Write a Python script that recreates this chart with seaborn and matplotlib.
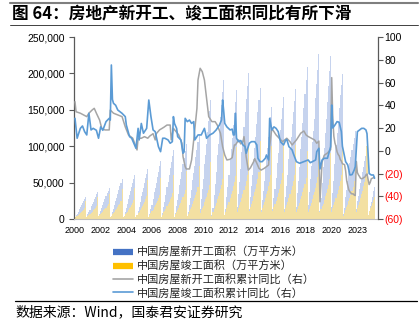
import matplotlib
matplotlib.use("Agg")
import matplotlib.pyplot as plt
import seaborn as sns
import pandas as pd
from matplotlib.lines import Line2D
from matplotlib.ticker import FuncFormatter

# ---------------- data ----------------
# category axis as in the source: each year from its first to its last reported month
cat_years = list(range(2000, 2025))
cat_first_month = [2, 2, 2, 1, 1, 1, 1, 1, 1, 1, 2, 1, 1, 2, 2, 2, 2, 2, 2, 2, 2, 2, 1, 2, 1]
cat_last_month = [12] * 24 + [7]

# 中国房屋新开工面积 累计值 (万平方米)
new_start_cum = [
    2400, 5000, 7400, 10100, 13600, 16000, 18600, 21600, 24300, 26900, 29600,                 # 2000
    3000, 6400, 9400, 12700, 17200, 20200, 23600, 27300, 30700, 34000, 37400,                 # 2001
    3400, 7300, 10700, 14600, 19700, 23100, 27000, 31200, 35100, 38900, 42800,                # 2002
    1600, 4400, 9300, 13700, 18600, 25200, 29500, 34500, 39900, 44900, 49800, 54700,          # 2003
    1800, 4800, 10300, 15100, 20500, 27800, 32600, 38100, 44100, 49500, 55000, 60400,         # 2004
    2000, 5400, 11600, 17000, 23200, 31300, 36800, 42900, 49700, 55800, 62000, 68100,         # 2005
    2400, 6300, 13500, 19800, 27000, 36500, 42800, 50000, 57900, 65000, 72200, 79300,         # 2006
    2900, 7600, 16200, 23900, 32400, 43900, 51500, 60100, 69600, 78200, 86800, 95400,         # 2007
    3100, 8200, 17400, 25700, 34900, 47200, 55400, 64600, 74900, 84100, 93400, 102600,        # 2008
    3500, 9300, 19800, 29100, 39600, 53500, 62900, 73300, 85000, 95400, 105900, 116400,       # 2009
    13100, 27800, 40900, 55600, 75300, 88300, 103100, 119400, 134200, 148900, 163600,         # 2010
    5700, 15300, 32500, 47800, 65000, 88000, 103200, 120500, 139600, 156800, 174000, 191200,  # 2011
    5300, 14200, 30100, 44300, 60300, 81600, 95700, 111700, 129400, 145400, 161300, 177300,   # 2012
    16100, 34200, 50300, 68400, 92600, 108600, 126800, 146900, 165000, 183100, 201200,        # 2013
    14400, 30500, 44900, 61100, 82600, 97000, 113100, 131100, 147300, 163400, 179600,         # 2014
    12400, 26300, 38600, 52500, 71100, 83400, 97300, 112800, 126700, 140600, 154500,          # 2015
    13400, 28400, 41700, 56700, 76800, 90100, 105100, 121800, 136900, 151900, 166900,         # 2016
    14300, 30400, 44700, 60800, 82200, 96500, 112600, 130500, 146500, 162600, 178700,         # 2017
    16700, 35600, 52300, 71200, 96300, 113000, 131900, 152800, 171600, 190500, 209300,        # 2018
    18800, 37500, 54600, 72700, 105500, 121000, 136900, 165700, 185600, 205200, 227200,       # 2019
    10400, 28200, 49600, 71300, 97600, 118300, 137100, 160300, 182700, 203400, 224400,        # 2020
    17100, 36200, 52000, 75600, 101400, 117600, 135200, 152900, 170000, 183500, 198900,       # 2021
    7500, 15100, 29600, 39700, 51600, 66400, 76900, 85100, 94800, 103700, 111600, 120600,     # 2022
    13600, 24100, 31600, 41000, 49900, 57000, 63900, 72100, 79200, 87000, 95400,              # 2023
    4700, 9400, 17400, 22700, 30100, 38000, 43700,                                            # 2024
]

# 中国房屋竣工面积 累计值 (万平方米)
completed_cum = [
    2500, 3800, 4800, 5800, 7300, 8500, 9800, 11300, 12800, 15100, 25100,                     # 2000
    3000, 4500, 5700, 6900, 8700, 10200, 11700, 13500, 15200, 17900, 29900,                   # 2001
    3500, 5300, 6700, 8100, 10200, 11900, 13700, 15800, 17900, 21000, 35000,                  # 2002
    2100, 4200, 6200, 7900, 9500, 12000, 14100, 16200, 18700, 21200, 24900, 41500,            # 2003
    2100, 4300, 6400, 8100, 9800, 12300, 14500, 16600, 19100, 21700, 25500, 42500,            # 2004
    2700, 5300, 8000, 10100, 12300, 15500, 18200, 20800, 24000, 27200, 32000, 53400,          # 2005
    2800, 5600, 8400, 10600, 12800, 16200, 19000, 21800, 25100, 28500, 33500, 55800,          # 2006
    3000, 6100, 9100, 11500, 13900, 17600, 20600, 23600, 27300, 30900, 36400, 60600,          # 2007
    3300, 6700, 10000, 12600, 15300, 19300, 22600, 25900, 29900, 33900, 39900, 66500,         # 2008
    3600, 7300, 10900, 13800, 16700, 21100, 24700, 28400, 32700, 37100, 43600, 72700,         # 2009
    7900, 11800, 15000, 18100, 22800, 26800, 30700, 35400, 40100, 47200, 78700,               # 2010
    4600, 9300, 13900, 17600, 21300, 26900, 31500, 36100, 41700, 47200, 55600, 92600,         # 2011
    5000, 9900, 14900, 18900, 22900, 28800, 33800, 38800, 44700, 50700, 59600, 99400,         # 2012
    10100, 15200, 19300, 23300, 29400, 34500, 39500, 45600, 51700, 60800, 101400,             # 2013
    10800, 16100, 20400, 24700, 31200, 36600, 41900, 48400, 54800, 64500, 107500,             # 2014
    10000, 15000, 19000, 23000, 29000, 34000, 39000, 45000, 51000, 60000, 100000,             # 2015
    10600, 15900, 20200, 24400, 30800, 36100, 41400, 47700, 54100, 63700, 106100,             # 2016
    10200, 15200, 19300, 23300, 29400, 34500, 39600, 45700, 51800, 60900, 101500,             # 2017
    9400, 14000, 17800, 21500, 27100, 31800, 36500, 42100, 47700, 56200, 93600,               # 2018
    9600, 14400, 18200, 22100, 27800, 32600, 37400, 43200, 48900, 57500, 95900,               # 2019
    9100, 13700, 17300, 21000, 26400, 31000, 35600, 41000, 46500, 54700, 91200,               # 2020
    10100, 15200, 19300, 23300, 29400, 34500, 39500, 45600, 51700, 60800, 101400,             # 2021
    4300, 8600, 12900, 16400, 19800, 25000, 29300, 33600, 38800, 44000, 51700, 86200,         # 2022
    10000, 15000, 19000, 23000, 28900, 33900, 38900, 44900, 50900, 59900, 99800,              # 2023
    5200, 10400, 15500, 18500, 21700, 26500, 30400,                                           # 2024
]

# 中国房屋新开工面积累计同比 (%)
starts_yoy_dates = [
    "2000-02", "2000-03", "2000-07", "2001-02", "2001-04", "2001-07", "2001-09", "2001-11",
    "2002-03", "2002-05", "2002-08", "2002-12", "2003-01", "2003-04", "2003-08", "2003-12",
    "2004-03", "2004-06", "2004-10", "2005-02", "2005-03", "2005-06", "2005-09", "2005-12",
    "2006-02", "2006-05", "2006-07", "2006-08", "2006-11", "2007-03", "2007-06", "2007-09",
    "2007-10", "2007-12", "2008-05", "2008-08", "2008-09", "2008-11", "2008-12", "2009-03",
    "2009-05", "2009-07", "2009-10", "2009-11", "2010-02", "2010-04", "2010-06", "2010-10",
    "2011-01", "2011-04", "2011-06", "2011-09", "2011-11", "2012-01", "2012-03", "2012-06",
    "2012-08", "2012-10", "2012-11", "2013-03", "2013-05", "2013-07", "2013-08", "2013-10",
    "2013-12", "2014-03", "2014-06", "2014-07", "2014-09", "2014-11", "2015-02", "2015-05",
    "2015-07", "2015-09", "2015-10", "2015-12", "2016-03", "2016-05", "2016-08", "2016-11",
    "2017-04", "2017-07", "2017-09", "2018-02", "2018-03", "2018-05", "2018-06", "2018-09",
    "2018-11", "2019-02", "2019-05", "2019-08", "2019-10", "2019-12", "2020-02", "2020-03",
    "2020-04", "2020-06", "2020-09", "2020-12", "2021-02", "2021-03", "2021-04", "2021-05",
    "2021-06", "2021-07", "2021-08", "2021-09", "2021-10", "2021-11", "2021-12", "2022-02",
    "2022-03", "2022-04", "2022-05", "2022-06", "2022-07", "2022-08", "2022-09", "2022-10",
    "2022-11", "2022-12", "2023-02", "2023-03", "2023-04", "2023-05", "2023-06", "2023-07",
    "2023-08", "2023-09", "2023-10", "2023-11", "2023-12", "2024-02", "2024-03", "2024-04",
    "2024-05", "2024-06", "2024-07",
]
starts_yoy = [
    43.1, 34.3, 33.0, 30.0, 33.0, 35.8, 37.3, 33.0,
    27.0, 19.7, 18.3, 18.3, 35.8, 33.0, 31.5, 30.0,
    21.0, 13.9, 11.0, 0.7, 11.0, 11.0, 12.4, 11.0,
    13.0, 15.0, 9.5, 15.0, 18.3, 20.6, 22.6, 22.6,
    9.5, 19.7, 13.9, 6.6, -5.2, -14.0, -16.0, -16.0,
    -8.1, 9.5, 37.3, 62.2, 72.5, 69.5, 62.2, 30.0,
    25.6, 25.6, 22.6, 15.4, 3.6, -3.7, -8.1, -7.5,
    -6.0, 5.1, 5.1, 9.5, 6.0, 8.0, 12.4, -5.2,
    -17.0, -15.0, -9.6, -7.0, -11.0, -15.4, -17.0, -15.4,
    -14.0, -12.5, 3.6, 19.7, 16.8, 13.9, 11.0, 8.0,
    11.0, 8.0, 5.1, 9.5, 11.0, 13.9, 15.4, 17.4,
    13.9, 12.5, 11.0, 9.5, 6.6, 8.5, -44.9, -27.0,
    -10.0, -4.0, -2.0, 1.0, 64.3, 28.2, 12.8, 6.9,
    3.8, -0.9, -3.2, -4.5, -7.7, -9.1, -11.4, -12.2,
    -17.5, -26.3, -30.6, -34.4, -36.1, -37.2, -38.0, -37.8,
    -38.9, -39.4, -9.4, -19.2, -21.2, -22.6, -24.3, -24.5,
    -24.4, -23.4, -23.2, -21.2, -20.4, -29.7, -27.8, -24.6,
    -24.2, -23.7, -23.2,
]

# 中国房屋竣工面积累计同比 (%)
completed_yoy_dates = [
    "2000-02", "2000-04", "2000-07", "2000-09", "2000-11", "2001-02", "2001-04", "2001-06",
    "2001-08", "2001-11", "2002-02", "2002-04", "2002-06", "2002-09", "2002-12", "2003-01",
    "2003-02", "2003-03", "2003-04", "2003-06", "2003-08", "2003-12", "2004-03", "2004-04",
    "2004-07", "2004-09", "2004-11", "2005-01", "2005-03", "2005-04", "2005-06", "2005-08",
    "2005-11", "2006-01", "2006-03", "2006-05", "2006-07", "2006-10", "2006-12", "2007-02",
    "2007-04", "2007-07", "2007-09", "2007-11", "2007-12", "2008-01", "2008-03", "2008-04",
    "2008-07", "2008-09", "2008-10", "2008-11", "2009-01", "2009-03", "2009-05", "2009-07",
    "2009-08", "2009-11", "2010-03", "2010-06", "2010-08", "2010-11", "2011-02", "2011-05",
    "2011-08", "2011-10", "2011-11", "2011-12", "2012-01", "2012-03", "2012-06", "2012-08",
    "2012-09", "2012-10", "2012-11", "2012-12", "2013-03", "2013-05", "2013-07", "2013-09",
    "2013-10", "2014-02", "2014-04", "2014-07", "2014-09", "2014-10", "2014-12", "2015-03",
    "2015-06", "2015-07", "2015-09", "2015-10", "2015-12", "2016-03", "2016-05", "2016-07",
    "2016-09", "2016-12", "2017-03", "2017-04", "2017-06", "2017-09", "2017-10", "2018-02",
    "2018-05", "2018-09", "2019-02", "2019-04", "2019-09", "2019-10", "2019-12", "2020-02",
    "2020-04", "2020-06", "2020-09", "2020-12", "2021-02", "2021-03", "2021-05", "2021-07",
    "2021-09", "2021-11", "2021-12", "2022-03", "2022-05", "2022-07", "2022-09", "2022-11",
    "2022-12", "2023-02", "2023-03", "2023-04", "2023-07", "2023-09", "2023-11", "2023-12",
    "2024-02", "2024-04", "2024-06", "2024-07",
]
completed_yoy = [
    28.5, 11.0, 19.7, 21.8, 16.8, 13.9, 32.9, 18.3,
    19.7, 18.0, 11.0, 21.0, 18.0, 25.6, 28.5, 27.0,
    75.4, 45.0, 41.7, 40.0, 35.8, 32.9, 30.0, 22.6,
    12.4, 11.0, 6.6, 2.2, 19.7, 9.5, 24.0, 15.4,
    19.7, 44.6, 30.0, 18.3, 16.8, 3.6, -0.8, 11.0,
    11.0, 9.5, 6.6, 8.0, 30.0, 24.0, 19.7, 12.4,
    9.5, -2.2, -1.0, 28.5, 25.6, 27.0, 24.0, 25.6,
    9.5, 13.9, 13.9, 19.7, 11.0, 13.9, 15.4, 18.3,
    22.6, 27.0, 44.6, 35.0, 24.1, 21.0, 18.3, 19.0,
    13.9, 14.0, 33.0, 11.0, 8.0, 9.0, 5.1, 3.6,
    -2.2, 6.6, 8.0, 8.0, 5.1, -6.6, -9.6, -9.6,
    -6.6, -3.7, -8.1, 28.5, 18.3, 21.0, 19.7, 16.8,
    8.0, 5.1, 9.5, 10.0, 3.6, 0.7, -2.2, -9.6,
    -11.0, -9.6, -8.1, -10.5, -8.1, -0.8, 2.2, -16.0,
    -8.1, -6.6, -6.6, 3.6, 40.2, 20.0, 22.6, 25.6,
    25.0, 16.8, 4.0, -9.6, -12.5, -21.3, -21.0, -17.0,
    -14.0, 2.2, 16.8, 17.5, 19.7, 19.7, 18.3, 15.0,
    -20.0, -21.3, -21.3, -24.2,
]

x_tick_labels = ["2000", "2002", "2004", "2006", "2008", "2010",
                 "2012", "2014", "2016", "2018", "2020", "2023"]
left_ticks = [0, 50000, 100000, 150000, 200000, 250000]
right_ticks = [-60, -40, -20, 0, 20, 40, 60, 80, 100]
right_tick_labels = ["(60)", "(40)", "(20)", "0", "20", "40", "60", "80", "100"]

legend_labels = ["中国房屋新开工面积（万平方米）", "中国房屋竣工面积（万平方米）",
                 "中国房屋新开工面积累计同比（右）", "中国房屋竣工面积累计同比（右）"]

# ---------------- build ----------------
cats = []
for y, m0, m1 in zip(cat_years, cat_first_month, cat_last_month):
    for m in range(m0, m1 + 1):
        cats.append(f"{y}-{m:02d}")
pos = {c: i for i, c in enumerate(cats)}
assert len(cats) == len(new_start_cum) == len(completed_cum)

df = pd.DataFrame({"pos": list(range(len(cats))),
                   "starts": new_start_cum, "done": completed_cum})
df_s = pd.DataFrame({"pos": [pos[d] for d in starts_yoy_dates], "v": starts_yoy})
df_c = pd.DataFrame({"pos": [pos[d] for d in completed_yoy_dates], "v": completed_yoy})

sns.set_style("white")
plt.rcParams["font.family"] = ["Liberation Sans", "Noto Sans CJK SC", "DejaVu Sans"]
plt.rcParams["axes.unicode_minus"] = False

C_BLUE = "#4472C4"
C_YEL = "#FFC000"
C_BAR_BLUE = "#C6D3EE"
C_BAR_YEL = "#F3E0A2"
C_GRAY = "#A5A5A5"
C_LBLUE = "#5B9BD5"
C_AX = "#595959"

fig = plt.figure(figsize=(4.2, 3.26), dpi=100)
ax = fig.add_axes([0.1755, 0.3282, 0.7238, 0.5583])

sns.barplot(data=df, x="pos", y="starts", native_scale=True, width=1.0,
            color=C_BAR_BLUE, saturation=1, errorbar=None,
            linewidth=0, ax=ax)
sns.barplot(data=df, x="pos", y="done", native_scale=True, width=1.0,
            color=C_BAR_YEL, saturation=1, errorbar=None,
            linewidth=0, ax=ax)

ax2 = ax.twinx()
sns.lineplot(data=df_s, x="pos", y="v", color=C_GRAY, linewidth=1.1, ax=ax2)
sns.lineplot(data=df_c, x="pos", y="v", color=C_LBLUE, linewidth=1.2, ax=ax2)

ax.set_xlim(-1.2, 283)
ax2.set_xlim(-1.2, 283)
ax.set_ylim(0, 250000)
ax2.set_ylim(-60, 100)
for a in (ax, ax2):
    a.set_xlabel("")
    a.set_ylabel("")
    a.grid(False)

ax.set_xticks(list(range(0, 24 * len(x_tick_labels), 24)))
ax.set_xticklabels(x_tick_labels)
ax.set_yticks(left_ticks)
ax.yaxis.set_major_formatter(FuncFormatter(lambda v, p: f"{int(v):,}"))
ax2.set_yticks(right_ticks)
ax2.set_yticklabels(right_tick_labels)
for t in ax2.get_yticklabels():
    t.set_color("#FF0000" if t.get_text().startswith("(") else "#000000")

ax.tick_params(axis="x", length=0, labelsize=6.5, pad=5, labelcolor="#000000")
ax.tick_params(axis="y", direction="out", length=3.5, width=0.8, color=C_AX,
               labelsize=7.5, pad=3, labelcolor="#000000")
ax2.tick_params(axis="y", direction="out", length=3.5, width=0.8, color=C_AX,
                labelsize=7.5, pad=1.5)

for s in ("top", "right"):
    ax.spines[s].set_visible(False)
ax.spines["left"].set_color(C_AX)
ax.spines["left"].set_linewidth(0.9)
ax.spines["bottom"].set_color("#BFBFBF")
ax.spines["bottom"].set_linewidth(0.8)
for s in ("top", "left", "bottom"):
    ax2.spines[s].set_visible(False)
ax2.spines["right"].set_color(C_AX)
ax2.spines["right"].set_linewidth(0.9)

# legend
handles = [Line2D([0], [0], color=C_BLUE, lw=4.5, solid_capstyle="butt"),
           Line2D([0], [0], color=C_YEL, lw=4.5, solid_capstyle="butt"),
           Line2D([0], [0], color=C_GRAY, lw=1.2),
           Line2D([0], [0], color=C_LBLUE, lw=1.2)]
fig.legend(handles, legend_labels, loc="upper left",
           bbox_to_anchor=(113 / 420, 1 - 247 / 326), borderaxespad=0,
           borderpad=0, handlelength=1.8, handletextpad=0.35,
           labelspacing=0.22, frameon=False,
           prop={"family": ["Noto Sans CJK SC"], "size": 8})

# title, rules, source
fig.text(12 / 420, 1 - 14 / 326, "图 64：房地产新开工、竣工面积同比有所下滑",
         fontsize=12, fontweight="bold", va="center", ha="left",
         family=["Noto Sans CJK SC"], color="#000000")
fig.add_artist(Line2D([10 / 420, 418 / 420], [1 - 2.5 / 326] * 2,
                      color="#7F7F7F", lw=1.5))
fig.add_artist(Line2D([10 / 420, 418 / 420], [1 - 25 / 326] * 2,
                      color="#404040", lw=0.7))
fig.add_artist(Line2D([15 / 420, 417 / 420], [1 - 301 / 326] * 2,
                      color="#000000", lw=0.9))
fig.text(15 / 420, 1 - 312 / 326, "数据来源：Wind，国泰君安证券研究",
         fontsize=10, va="center", ha="left",
         family=["Noto Sans CJK SC"], color="#000000")

fig.savefig("out.png", dpi=100)
